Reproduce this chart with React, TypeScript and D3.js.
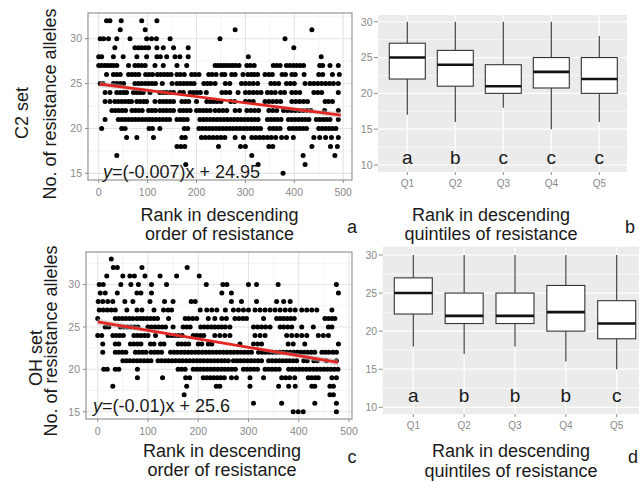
import React from "react";
import * as d3 from "d3";

const FONT = "'Liberation Sans', Arial, Helvetica, sans-serif";

// ---------- Panel a: C2 set scatter (rank vs no. of resistance alleles) ----------
const c2Levels = [32, 31, 30, 29, 28, 27, 26, 25, 24, 23, 22, 21, 20, 19, 18, 17, 16, 15];
const c2RanksByLevel: number[][] = [
  [16, 23, 46, 88, 119],
  [44, 95, 279, 436],
  [3, 10, 20, 37, 64, 98, 108, 118, 146, 248, 381],
  [33, 74, 81, 88, 95, 102, 119, 132, 153, 183, 399],
  [0, 6, 30, 50, 78, 98, 119, 126, 139, 156, 166, 183, 306, 455],
  [0, 6, 12, 18, 24, 30, 37, 61, 74, 81, 88, 95, 115, 132, 160, 180, 238, 244, 250, 256, 262, 268, 274, 280, 287, 303, 310, 318, 357, 364, 371, 384, 391, 398, 405, 412, 419, 452, 458, 473, 490],
  [16, 30, 37, 44, 61, 68, 75, 82, 96, 103, 110, 120, 127, 134, 141, 148, 160, 167, 175, 190, 197, 205, 225, 232, 240, 252, 258, 272, 279, 295, 305, 312, 318, 325, 340, 348, 355, 375, 382, 395, 402, 420, 450, 458, 478, 492],
  [3, 9, 30, 37, 44, 51, 74, 81, 88, 95, 102, 109, 116, 130, 150, 160, 167, 174, 181, 188, 195, 215, 222, 229, 238, 259, 268, 292, 300, 308, 316, 325, 352, 360, 368, 384, 392, 400, 422, 432, 440, 448, 456, 464, 472, 480, 490],
  [13, 23, 37, 44, 51, 57, 71, 78, 85, 91, 105, 125, 132, 139, 146, 153, 166, 173, 187, 194, 201, 208, 220, 252, 260, 268, 285, 300, 308, 316, 324, 332, 345, 353, 361, 372, 380, 395, 403, 411, 440, 448, 456, 490],
  [13, 23, 33, 40, 47, 54, 61, 67, 78, 85, 92, 98, 115, 125, 132, 139, 146, 153, 170, 177, 184, 200, 221, 228, 235, 242, 250, 270, 278, 300, 308, 316, 340, 348, 356, 364, 372, 395, 403, 411, 419, 427, 463, 470, 478],
  [27, 34, 41, 48, 55, 68, 75, 82, 89, 102, 109, 116, 125, 132, 139, 146, 153, 166, 173, 180, 187, 200, 207, 214, 221, 228, 238, 246, 254, 262, 279, 288, 303, 311, 319, 327, 348, 356, 364, 378, 386, 394, 402, 410, 418, 426, 434, 462, 490],
  [13, 40, 47, 54, 61, 68, 75, 82, 89, 96, 103, 110, 117, 124, 131, 138, 145, 160, 167, 174, 181, 207, 214, 221, 228, 235, 242, 249, 256, 263, 270, 277, 284, 291, 298, 305, 312, 319, 326, 345, 352, 359, 366, 373, 388, 395, 402, 409, 416, 423, 430, 445, 452, 459, 466, 473, 490],
  [6, 47, 54, 103, 110, 125, 175, 182, 205, 212, 219, 226, 233, 240, 247, 254, 261, 268, 275, 282, 289, 296, 303, 310, 317, 324, 331, 350, 357, 364, 371, 390, 397, 404, 411, 418, 425, 450, 457, 464, 471, 478, 485],
  [57, 78, 112, 170, 177, 210, 218, 226, 234, 242, 250, 258, 279, 296, 313, 321, 329, 337, 345, 353, 362, 374, 384, 398, 440, 452, 464, 476, 490],
  [160, 168, 176, 245, 290, 300, 348, 356, 436, 474, 488],
  [37, 313, 418, 483],
  [178, 326, 422],
  [377],
];
const c2Slope = -0.007;
const c2Intercept = 24.95;
const c2LineRanks = [2, 495];
const c2BandHalf = [0.35, 0.12, 0.35];

// ---------- Panel c: OH set scatter ----------
const ohLevels = [33, 32, 31, 30, 29, 28, 27, 26, 25, 24, 23, 22, 21, 20, 19, 18, 17, 16, 15];
const ohRanksByLevel: number[][] = [
  [27],
  [31, 39, 88, 178],
  [18, 50, 64, 73, 94, 124, 157, 202],
  [3, 11, 46, 66, 81, 107, 137, 216, 249, 257, 300, 316, 359, 475],
  [5, 15, 39, 78, 86, 107, 247, 266, 479],
  [1, 10, 20, 30, 54, 70, 104, 133, 150, 186, 194, 266, 286, 316, 356, 370, 383],
  [3, 11, 19, 27, 35, 58, 78, 88, 112, 131, 140, 147, 204, 217, 227, 237, 254, 270, 280, 290, 300, 313, 323, 333, 343, 353, 363, 373, 383, 393, 406, 416, 426, 436, 466],
  [0, 35, 42, 49, 56, 63, 70, 78, 85, 91, 98, 105, 112, 119, 141, 174, 181, 189, 197, 220, 233, 247, 256, 273, 281, 289, 296, 330, 356, 363, 370, 377, 384, 391, 452, 459, 466, 472],
  [15, 22, 45, 52, 59, 66, 73, 80, 100, 107, 114, 121, 128, 135, 150, 170, 177, 184, 205, 212, 219, 226, 233, 240, 247, 254, 263, 310, 318, 326, 334, 343, 363, 370, 378, 386, 406, 429, 459, 466],
  [0, 8, 30, 37, 44, 51, 72, 79, 86, 93, 100, 115, 140, 147, 154, 161, 168, 190, 197, 204, 211, 233, 243, 253, 263, 313, 323, 333, 376, 386, 396, 406, 416, 439, 449, 459],
  [10, 35, 42, 65, 72, 79, 86, 105, 112, 125, 132, 160, 167, 174, 181, 200, 207, 220, 227, 283, 310, 318, 326, 379, 389, 412, 479],
  [10, 35, 42, 49, 56, 75, 82, 89, 96, 106, 113, 120, 127, 145, 152, 159, 166, 173, 180, 187, 194, 201, 208, 215, 222, 229, 236, 243, 250, 257, 264, 271, 278, 285, 292, 299, 306, 320, 327, 334, 341, 348, 355, 362, 369, 376, 383, 390, 397, 404, 411, 418, 425, 432, 446, 453, 460, 468, 475],
  [50, 57, 64, 71, 78, 85, 92, 99, 106, 120, 127, 134, 141, 148, 155, 162, 169, 176, 183, 190, 197, 204, 211, 218, 225, 232, 239, 246, 253, 260, 270, 277, 284, 291, 298, 305, 312, 319, 326, 340, 347, 354, 361, 368, 375, 382, 389, 396, 410, 417, 430, 437, 455, 475],
  [12, 19, 35, 42, 79, 160, 167, 174, 190, 197, 204, 211, 218, 225, 232, 239, 246, 253, 260, 267, 274, 290, 297, 304, 311, 318, 333, 340, 347, 354, 361, 380, 387, 394, 401, 408, 415, 422, 429, 436, 443, 450, 457, 464, 471, 478],
  [79, 129, 175, 183, 210, 217, 224, 231, 238, 245, 252, 266, 276, 303, 330, 366, 374, 382, 392, 419, 426, 433, 439, 466, 475],
  [30, 177, 236, 243, 303, 360, 380, 393, 426, 432, 462, 469],
  [172, 462, 469],
  [310, 366, 432, 475],
  [389, 399, 409, 475],
];
const ohSlope = -0.01;
const ohIntercept = 25.6;
const ohLineRanks = [0, 478];
const ohBandHalf = [0.4, 0.14, 0.4];

const rankTicks = [0, 100, 200, 300, 400, 500];
const rankMinor = [50, 150, 250, 350, 450];
const scatterYTicks = [15, 20, 25, 30];
const scatterYMinor = [17.5, 22.5, 27.5, 32.5];

// ---------- Panels b & d: boxplots by quintile ----------
const quintiles = ["Q1", "Q2", "Q3", "Q4", "Q5"];
const boxYTicks = [10, 15, 20, 25, 30];
const boxYMinor = [12.5, 17.5, 22.5, 27.5];

const c2Min = [17, 16, 18, 15, 16];
const c2Lower = [22, 21, 20, 20.75, 20];
const c2Median = [25, 24, 21, 23, 22];
const c2Upper = [27, 26, 24, 25, 25];
const c2Max = [30, 30, 30, 30, 28];
const c2Groups = ["a", "b", "c", "c", "c"];

const ohMin = [18, 17, 18, 16, 15];
const ohLower = [22.25, 21, 21, 20, 19];
const ohMedian = [25, 22, 22, 22.5, 21];
const ohUpper = [27, 25, 25, 26, 24];
const ohMax = [30, 30, 30, 30, 30];
const ohGroups = ["a", "b", "b", "b", "c"];

const TICK_COLOR = "#8a8a8a";
const TITLE_COLOR = "#1a1a1a";

type Frame = { x: number; y: number; w: number; h: number };

function ScatterPanel(props: {
  frame: Frame;
  xDomain: [number, number];
  yDomain: [number, number];
  levels: number[];
  ranks: number[][];
  slope: number;
  intercept: number;
  lineRanks: number[];
  bandHalf: number[];
  eqText: string;
  eqX: number;
  eqY: number;
}) {
  const { frame, xDomain, yDomain, levels, ranks, slope, intercept, lineRanks, bandHalf, eqText, eqX, eqY } = props;
  const x = d3.scaleLinear().domain(xDomain).range([frame.x, frame.x + frame.w]);
  const y = d3.scaleLinear().domain(yDomain).range([frame.y + frame.h, frame.y]);
  const points: [number, number][] = [];
  levels.forEach((lv, i) => ranks[i].forEach((r) => points.push([r, lv])));
  const lineGen = d3
    .line<number>()
    .x((r) => x(r))
    .y((r) => y(intercept + slope * r));
  const r0 = lineRanks[0];
  const r1 = lineRanks[1];
  const rm = (r0 + r1) / 2;
  const bandRanks = [r0, rm, r1];
  const area = d3
    .area<number>()
    .x((r) => x(r))
    .y0((r, i) => y(intercept + slope * r - bandHalf[i]))
    .y1((r, i) => y(intercept + slope * r + bandHalf[i]))
    .curve(d3.curveNatural);
  const inY = (v: number) => v >= yDomain[0] && v <= yDomain[1];
  return (
    <g>
      <rect x={frame.x} y={frame.y} width={frame.w} height={frame.h} fill="#ffffff" />
      {rankMinor.map((t) => (
        <line key={"vm" + t} x1={x(t)} x2={x(t)} y1={frame.y} y2={frame.y + frame.h} stroke="#f0f0f0" strokeWidth={0.7} />
      ))}
      {scatterYMinor.filter(inY).map((t) => (
        <line key={"hm" + t} x1={frame.x} x2={frame.x + frame.w} y1={y(t)} y2={y(t)} stroke="#f0f0f0" strokeWidth={0.7} />
      ))}
      {rankTicks.map((t) => (
        <line key={"vM" + t} x1={x(t)} x2={x(t)} y1={frame.y} y2={frame.y + frame.h} stroke="#e4e4e4" strokeWidth={1.1} />
      ))}
      {scatterYTicks.map((t) => (
        <line key={"hM" + t} x1={frame.x} x2={frame.x + frame.w} y1={y(t)} y2={y(t)} stroke="#e4e4e4" strokeWidth={1.1} />
      ))}
      {points.map(([r, v], i) => (
        <circle key={i} cx={x(r)} cy={y(v)} r={2.5} fill="#000000" />
      ))}
      <path d={area(bandRanks) || ""} fill="#bdbdbd" opacity={0.55} />
      <path d={lineGen([r0, r1]) || ""} stroke="#e3261f" strokeWidth={2.7} fill="none" />
      <rect x={frame.x} y={frame.y} width={frame.w} height={frame.h} fill="none" stroke="#8c8c8c" strokeWidth={1.1} />
      {rankTicks.map((t) => (
        <g key={"xt" + t}>
          <line x1={x(t)} x2={x(t)} y1={frame.y + frame.h} y2={frame.y + frame.h + 3} stroke="#8c8c8c" strokeWidth={1} />
          <text x={x(t)} y={frame.y + frame.h + 16} textAnchor="middle" fontSize={10.5} fill={TICK_COLOR} fontFamily={FONT}>
            {t}
          </text>
        </g>
      ))}
      {scatterYTicks.map((t) => (
        <g key={"yt" + t}>
          <line x1={frame.x - 3} x2={frame.x} y1={y(t)} y2={y(t)} stroke="#8c8c8c" strokeWidth={1} />
          <text x={frame.x - 6} y={y(t) + 3.8} textAnchor="end" fontSize={10.5} fill={TICK_COLOR} fontFamily={FONT}>
            {t}
          </text>
        </g>
      ))}
      <text x={eqX} y={eqY} fontSize={18} fill={TITLE_COLOR} fontFamily={FONT}>
        <tspan fontStyle="italic">y</tspan>
        {eqText}
      </text>
    </g>
  );
}

function BoxPanel(props: {
  bg: Frame;
  xRange: [number, number];
  yDomain: [number, number];
  boxW: number;
  mins: number[];
  lowers: number[];
  medians: number[];
  uppers: number[];
  maxs: number[];
  groups: string[];
  letterValue: number;
}) {
  const { bg, xRange, yDomain, boxW, mins, lowers, medians, uppers, maxs, groups, letterValue } = props;
  const x = d3.scalePoint<string>().domain(quintiles).range(xRange);
  const y = d3.scaleLinear().domain(yDomain).range([bg.y + bg.h, bg.y]);
  return (
    <g>
      <rect x={bg.x} y={bg.y} width={bg.w} height={bg.h} fill="#ebebeb" />
      {boxYMinor.map((t) => (
        <line key={"m" + t} x1={bg.x} x2={bg.x + bg.w} y1={y(t)} y2={y(t)} stroke="#ffffff" strokeWidth={0.6} />
      ))}
      {boxYTicks.map((t) => (
        <line key={"M" + t} x1={bg.x} x2={bg.x + bg.w} y1={y(t)} y2={y(t)} stroke="#ffffff" strokeWidth={1.2} />
      ))}
      {quintiles.map((q) => (
        <line key={"v" + q} x1={x(q)!} x2={x(q)!} y1={bg.y} y2={bg.y + bg.h} stroke="#ffffff" strokeWidth={1.2} />
      ))}
      {quintiles.map((q, i) => {
        const cx = x(q)!;
        return (
          <g key={q}>
            <line x1={cx} x2={cx} y1={y(maxs[i])} y2={y(uppers[i])} stroke="#333333" strokeWidth={1.1} />
            <line x1={cx} x2={cx} y1={y(lowers[i])} y2={y(mins[i])} stroke="#333333" strokeWidth={1.1} />
            <rect
              x={cx - boxW / 2}
              y={y(uppers[i])}
              width={boxW}
              height={y(lowers[i]) - y(uppers[i])}
              fill="#ffffff"
              stroke="#333333"
              strokeWidth={1.1}
            />
            <line x1={cx - boxW / 2} x2={cx + boxW / 2} y1={y(medians[i])} y2={y(medians[i])} stroke="#111111" strokeWidth={2.6} />
            <text x={cx} y={y(letterValue) + 6.5} textAnchor="middle" fontSize={19} fill={TITLE_COLOR} fontFamily={FONT}>
              {groups[i]}
            </text>
            <line x1={cx} x2={cx} y1={bg.y + bg.h} y2={bg.y + bg.h + 3} stroke="#8c8c8c" strokeWidth={1} />
            <text x={cx} y={bg.y + bg.h + 14.5} textAnchor="middle" fontSize={10} fill={TICK_COLOR} fontFamily={FONT}>
              {q}
            </text>
          </g>
        );
      })}
      {boxYTicks.map((t) => (
        <g key={"yt" + t}>
          <line x1={bg.x - 4} x2={bg.x} y1={y(t)} y2={y(t)} stroke="#8c8c8c" strokeWidth={1} />
          <text x={bg.x - 5.5} y={y(t) + 3.8} textAnchor="end" fontSize={10.5} fill={TICK_COLOR} fontFamily={FONT}>
            {t}
          </text>
        </g>
      ))}
    </g>
  );
}

function TwoLine(props: { x: number; y1: number; y2: number; l1: string; l2: string }) {
  return (
    <g fontFamily={FONT} fontSize={18} fill={TITLE_COLOR} textAnchor="middle">
      <text x={props.x} y={props.y1}>{props.l1}</text>
      <text x={props.x} y={props.y2}>{props.l2}</text>
    </g>
  );
}

function VText(props: { x: number; y: number; text: string }) {
  return (
    <text
      transform={`translate(${props.x},${props.y}) rotate(-90)`}
      textAnchor="middle"
      fontSize={18}
      fill={TITLE_COLOR}
      fontFamily={FONT}
    >
      {props.text}
    </text>
  );
}

function PanelLetter(props: { x: number; y: number; t: string }) {
  return (
    <text x={props.x} y={props.y} textAnchor="middle" fontSize={18} fill={TITLE_COLOR} fontFamily={FONT}>
      {props.t}
    </text>
  );
}

export default function App() {
  return (
    <svg
      width={639}
      height={482}
      viewBox="0 0 639 482"
      style={{ position: "absolute", left: 0, top: 0, background: "#ffffff" }}
    >
      <rect x={0} y={0} width={639} height={482} fill="#ffffff" />

      {/* Panel a */}
      <ScatterPanel
        frame={{ x: 88, y: 13, w: 264, h: 167 }}
        xDomain={[-21.9, 518]}
        yDomain={[14.26, 32.86]}
        levels={c2Levels}
        ranks={c2RanksByLevel}
        slope={c2Slope}
        intercept={c2Intercept}
        lineRanks={c2LineRanks}
        bandHalf={c2BandHalf}
        eqText="=(-0.007)x + 24.95"
        eqX={103}
        eqY={178}
      />
      <VText x={28} y={113} text="C2 set" />
      <VText x={56} y={104} text="No. of resistance alleles" />
      <TwoLine x={219.5} y1={221} y2={240} l1="Rank in descending" l2="order of resistance" />
      <PanelLetter x={352} y={233} t="a" />

      {/* Panel b */}
      <BoxPanel
        bg={{ x: 378, y: 15, w: 249, h: 157 }}
        xRange={[407.3, 599.3]}
        yDomain={[9.02, 30.94]}
        boxW={36}
        mins={c2Min}
        lowers={c2Lower}
        medians={c2Median}
        uppers={c2Upper}
        maxs={c2Max}
        groups={c2Groups}
        letterValue={11}
      />
      <TwoLine x={491} y1={221} y2={240} l1="Rank in descending" l2="quintiles of resistance" />
      <PanelLetter x={630} y={233} t="b" />

      {/* Panel c */}
      <ScatterPanel
        frame={{ x: 86, y: 252, w: 266, h: 167 }}
        xDomain={[-23.3, 506]}
        yDomain={[14.14, 33.84]}
        levels={ohLevels}
        ranks={ohRanksByLevel}
        slope={ohSlope}
        intercept={ohIntercept}
        lineRanks={ohLineRanks}
        bandHalf={ohBandHalf}
        eqText="=(-0.01)x + 25.6"
        eqX={93}
        eqY={412}
      />
      <VText x={42} y={358} text="OH set" />
      <VText x={57} y={341} text="No. of resistance alleles" />
      <TwoLine x={222} y1={457} y2={476} l1="Rank in descending" l2="order of resistance" />
      <PanelLetter x={352} y={463} t="c" />

      {/* Panel d */}
      <BoxPanel
        bg={{ x: 382.7, y: 246.7, w: 270, h: 167.3 }}
        xRange={[413.3, 616.7]}
        yDomain={[9.12, 31.09]}
        boxW={38}
        mins={ohMin}
        lowers={ohLower}
        medians={ohMedian}
        uppers={ohUpper}
        maxs={ohMax}
        groups={ohGroups}
        letterValue={11.6}
      />
      <TwoLine x={511} y1={457} y2={477} l1="Rank in descending" l2="quintiles of resistance" />
      <PanelLetter x={633} y={463} t="d" />
    </svg>
  );
}
